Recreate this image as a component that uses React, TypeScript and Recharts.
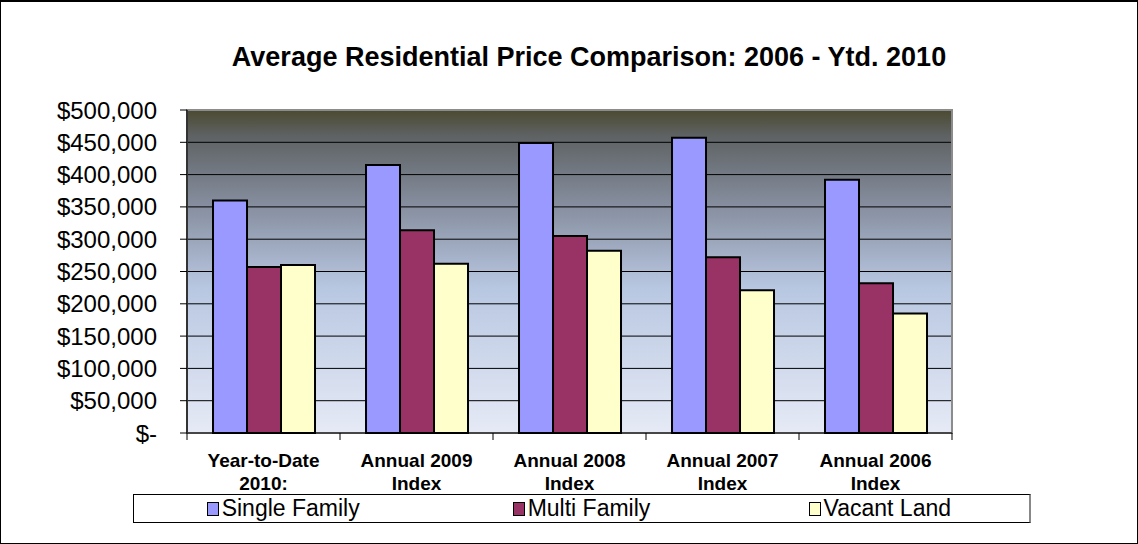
import React from 'react';
import { BarChart, Bar, XAxis, YAxis, CartesianGrid, Legend, ReferenceArea } from 'recharts';

const title = 'Average Residential Price Comparison: 2006 - Ytd. 2010';
const categories = [
  'Year-to-Date\n2010:',
  'Annual 2009\nIndex',
  'Annual 2008\nIndex',
  'Annual 2007\nIndex',
  'Annual 2006\nIndex',
];
const singleFamily = [360000, 415000, 449000, 457000, 392000];
const multiFamily = [257000, 314000, 305000, 272000, 232000];
const vacantLand = [260000, 262000, 282000, 221000, 185000];
const seriesNames = ['Single Family', 'Multi Family', 'Vacant Land'];
const seriesKeys = ['sf', 'mf', 'vl'];
const seriesColors = ['#9999ff', '#993366', '#ffffcc'];
const yTicks = [0, 50000, 100000, 150000, 200000, 250000, 300000, 350000, 400000, 450000, 500000];

const data = categories.map((c, i) => ({
  category: c,
  sf: singleFamily[i],
  mf: multiFamily[i],
  vl: vacantLand[i],
}));

const W = 1138;
const H = 544;
const FONT = '"Liberation Sans", Arial, sans-serif';
const MARGIN = { top: 110, right: 186, bottom: 0, left: 0 };
const Y_AXIS_W = 187;
const X_AXIS_H = 111;
const band = (W - MARGIN.right - MARGIN.left - Y_AXIS_W) / categories.length;

const fmt = (v: number) => (v === 0 ? '$-' : '$' + v.toLocaleString('en-US'));

function XTick(props: any) {
  const { x, y, payload, index } = props;
  const lines = String(payload.value).split('\n');
  return (
    <g>
      <line x1={x - band / 2} x2={x - band / 2} y1={y} y2={y + 7} stroke="#000" strokeWidth={1} />
      {index === categories.length - 1 && (
        <line x1={x + band / 2} x2={x + band / 2} y1={y} y2={y + 7} stroke="#000" strokeWidth={1} />
      )}
      <text x={x} y={y} textAnchor="middle" fontFamily={FONT} fontWeight="bold" fontSize={19} fill="#000">
        {lines.map((l, i) => (
          <tspan key={i} x={x} dy={i === 0 ? 34 : 23}>
            {l}
          </tspan>
        ))}
      </text>
    </g>
  );
}

function LegendBox() {
  return (
    <div
      style={{
        display: 'flex',
        width: '100%',
        height: '100%',
        boxSizing: 'border-box',
        border: '1px solid #000',
        borderRight: '2px solid #888',
        background: '#fff',
        fontFamily: FONT,
        fontSize: 23,
        color: '#000',
      }}
    >
      {seriesNames.map((n, i) => (
        <div
          key={n}
          style={{ flex: 1, display: 'flex', alignItems: 'center', justifyContent: 'center' }}
        >
          <span
            style={{
              display: 'inline-block',
              width: 10,
              height: 12,
              background: seriesColors[i],
              border: '1.5px solid #000',
              marginRight: 3,
            }}
          />
          <span style={{ lineHeight: '27px' }}>{n}</span>
        </div>
      ))}
    </div>
  );
}

export default function App() {
  return (
    <div style={{ position: 'absolute', left: 0, top: 0, width: W, height: H, background: '#fff' }}>
      <div
        style={{
          position: 'absolute',
          left: 0,
          top: 41,
          width: 1178,
          textAlign: 'center',
          fontFamily: FONT,
          fontWeight: 'bold',
          fontSize: 27,
          lineHeight: '32px',
          color: '#000',
        }}
      >
        {title}
      </div>
      <BarChart
        width={W}
        height={H}
        data={data}
        margin={MARGIN}
        barCategoryGap="17%"
        barGap={0}
        style={{ position: 'absolute', left: 0, top: 0 }}
      >
        <defs>
          <linearGradient id="plotBg" x1="0" y1="0" x2="0" y2="1">
            <stop offset="0" stopColor="#4c4a31" />
            <stop offset="0.08" stopColor="#5e6263" />
            <stop offset="0.3" stopColor="#878fa0" />
            <stop offset="0.55" stopColor="#b8c7e1" />
            <stop offset="1" stopColor="#e6eaf6" />
          </linearGradient>
        </defs>
        <CartesianGrid vertical={false} stroke="#000" fill="url(#plotBg)" fillOpacity={1} />
        <ReferenceArea y1={0} y2={500000} fill="none" stroke="#8c8c8c" strokeWidth={2} />
        <XAxis
          dataKey="category"
          height={X_AXIS_H}
          interval={0}
          tickLine={false}
          tickSize={0}
          tickMargin={0}
          axisLine={{ stroke: '#000' }}
          tick={<XTick />}
        />
        <YAxis
          width={Y_AXIS_W}
          domain={[0, 500000]}
          ticks={yTicks}
          tickFormatter={fmt}
          tickSize={7}
          tickMargin={23}
          axisLine={{ stroke: '#333', strokeWidth: 2 }}
          tickLine={{ stroke: '#000' }}
          tick={{ fill: '#000', fontSize: 24, fontFamily: FONT }}
          interval={0}
        />
        {seriesKeys.map((k, i) => (
          <Bar
            key={k}
            dataKey={k}
            name={seriesNames[i]}
            fill={seriesColors[i]}
            stroke="#000"
            strokeWidth={2}
            isAnimationActive={false}
          />
        ))}
        <Legend
          layout="horizontal"
          verticalAlign="middle"
          align="center"
          wrapperStyle={{ position: 'absolute', left: 133, top: 494, width: 898, height: 29 }}
          content={() => <LegendBox />}
        />
      </BarChart>
      <div
        style={{
          position: 'absolute',
          left: 0,
          top: 0,
          width: W,
          height: H,
          boxSizing: 'border-box',
          borderTop: '2px solid #000',
          borderLeft: '1px solid #000',
          borderRight: '1px solid #000',
          borderBottom: '1px solid #000',
          pointerEvents: 'none',
        }}
      />
    </div>
  );
}
